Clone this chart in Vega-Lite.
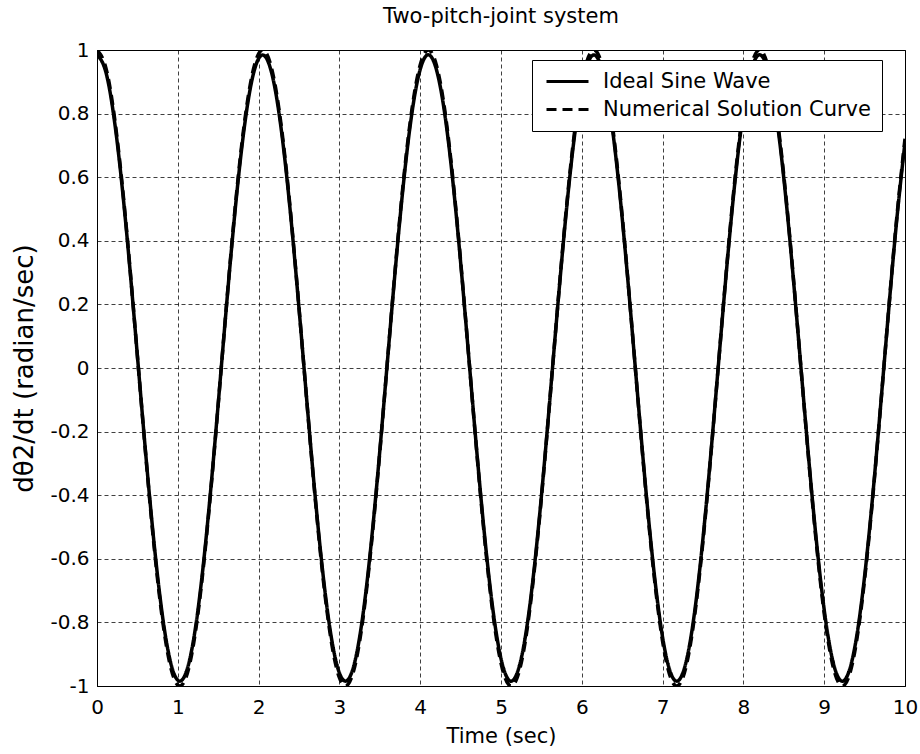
{
  "$schema": "https://vega.github.io/schema/vega-lite/v6.json",
  "width": 808,
  "height": 636,
  "autosize": {"type": "none"},
  "padding": {"left": 97, "top": 50, "right": 15, "bottom": 68},
  "background": "white",
  "title": {
    "text": "Two-pitch-joint system",
    "font": "DejaVu Sans",
    "fontSize": 21,
    "fontWeight": "normal",
    "color": "black",
    "frame": "group",
    "offset": 13
  },
  "data": {
    "values": [
      {"t": 0, "Ideal Sine Wave": 0.985, "Numerical Solution Curve": 1},
      {"t": 0.1, "Ideal Sine Wave": 0.939, "Numerical Solution Curve": 0.953},
      {"t": 0.2, "Ideal Sine Wave": 0.806, "Numerical Solution Curve": 0.818},
      {"t": 0.3, "Ideal Sine Wave": 0.597, "Numerical Solution Curve": 0.606},
      {"t": 0.4, "Ideal Sine Wave": 0.333, "Numerical Solution Curve": 0.338},
      {"t": 0.5, "Ideal Sine Wave": 0.038, "Numerical Solution Curve": 0.038},
      {"t": 0.6, "Ideal Sine Wave": -0.261, "Numerical Solution Curve": -0.265},
      {"t": 0.7, "Ideal Sine Wave": -0.535, "Numerical Solution Curve": -0.544},
      {"t": 0.8, "Ideal Sine Wave": -0.76, "Numerical Solution Curve": -0.772},
      {"t": 0.9, "Ideal Sine Wave": -0.914, "Numerical Solution Curve": -0.928},
      {"t": 1, "Ideal Sine Wave": -0.982, "Numerical Solution Curve": -0.997},
      {"t": 1.1, "Ideal Sine Wave": -0.959, "Numerical Solution Curve": -0.974},
      {"t": 1.2, "Ideal Sine Wave": -0.847, "Numerical Solution Curve": -0.86},
      {"t": 1.3, "Ideal Sine Wave": -0.655, "Numerical Solution Curve": -0.665},
      {"t": 1.4, "Ideal Sine Wave": -0.403, "Numerical Solution Curve": -0.409},
      {"t": 1.5, "Ideal Sine Wave": -0.113, "Numerical Solution Curve": -0.115},
      {"t": 1.6, "Ideal Sine Wave": 0.188, "Numerical Solution Curve": 0.19},
      {"t": 1.7, "Ideal Sine Wave": 0.471, "Numerical Solution Curve": 0.478},
      {"t": 1.8, "Ideal Sine Wave": 0.71, "Numerical Solution Curve": 0.721},
      {"t": 1.9, "Ideal Sine Wave": 0.883, "Numerical Solution Curve": 0.896},
      {"t": 2, "Ideal Sine Wave": 0.973, "Numerical Solution Curve": 0.988},
      {"t": 2.1, "Ideal Sine Wave": 0.973, "Numerical Solution Curve": 0.988},
      {"t": 2.2, "Ideal Sine Wave": 0.883, "Numerical Solution Curve": 0.896},
      {"t": 2.3, "Ideal Sine Wave": 0.71, "Numerical Solution Curve": 0.721},
      {"t": 2.4, "Ideal Sine Wave": 0.471, "Numerical Solution Curve": 0.478},
      {"t": 2.5, "Ideal Sine Wave": 0.188, "Numerical Solution Curve": 0.19},
      {"t": 2.6, "Ideal Sine Wave": -0.113, "Numerical Solution Curve": -0.115},
      {"t": 2.7, "Ideal Sine Wave": -0.403, "Numerical Solution Curve": -0.409},
      {"t": 2.8, "Ideal Sine Wave": -0.655, "Numerical Solution Curve": -0.665},
      {"t": 2.9, "Ideal Sine Wave": -0.847, "Numerical Solution Curve": -0.86},
      {"t": 3, "Ideal Sine Wave": -0.959, "Numerical Solution Curve": -0.974},
      {"t": 3.1, "Ideal Sine Wave": -0.982, "Numerical Solution Curve": -0.997},
      {"t": 3.2, "Ideal Sine Wave": -0.914, "Numerical Solution Curve": -0.928},
      {"t": 3.3, "Ideal Sine Wave": -0.76, "Numerical Solution Curve": -0.772},
      {"t": 3.4, "Ideal Sine Wave": -0.535, "Numerical Solution Curve": -0.544},
      {"t": 3.5, "Ideal Sine Wave": -0.261, "Numerical Solution Curve": -0.265},
      {"t": 3.6, "Ideal Sine Wave": 0.038, "Numerical Solution Curve": 0.038},
      {"t": 3.7, "Ideal Sine Wave": 0.333, "Numerical Solution Curve": 0.338},
      {"t": 3.8, "Ideal Sine Wave": 0.597, "Numerical Solution Curve": 0.606},
      {"t": 3.9, "Ideal Sine Wave": 0.806, "Numerical Solution Curve": 0.818},
      {"t": 4, "Ideal Sine Wave": 0.939, "Numerical Solution Curve": 0.953},
      {"t": 4.1, "Ideal Sine Wave": 0.985, "Numerical Solution Curve": 1},
      {"t": 4.2, "Ideal Sine Wave": 0.939, "Numerical Solution Curve": 0.953},
      {"t": 4.3, "Ideal Sine Wave": 0.806, "Numerical Solution Curve": 0.818},
      {"t": 4.4, "Ideal Sine Wave": 0.597, "Numerical Solution Curve": 0.606},
      {"t": 4.5, "Ideal Sine Wave": 0.333, "Numerical Solution Curve": 0.338},
      {"t": 4.6, "Ideal Sine Wave": 0.038, "Numerical Solution Curve": 0.038},
      {"t": 4.7, "Ideal Sine Wave": -0.261, "Numerical Solution Curve": -0.265},
      {"t": 4.8, "Ideal Sine Wave": -0.535, "Numerical Solution Curve": -0.544},
      {"t": 4.9, "Ideal Sine Wave": -0.76, "Numerical Solution Curve": -0.772},
      {"t": 5, "Ideal Sine Wave": -0.914, "Numerical Solution Curve": -0.928},
      {"t": 5.1, "Ideal Sine Wave": -0.982, "Numerical Solution Curve": -0.997},
      {"t": 5.2, "Ideal Sine Wave": -0.959, "Numerical Solution Curve": -0.974},
      {"t": 5.3, "Ideal Sine Wave": -0.847, "Numerical Solution Curve": -0.86},
      {"t": 5.4, "Ideal Sine Wave": -0.655, "Numerical Solution Curve": -0.665},
      {"t": 5.5, "Ideal Sine Wave": -0.403, "Numerical Solution Curve": -0.409},
      {"t": 5.6, "Ideal Sine Wave": -0.113, "Numerical Solution Curve": -0.115},
      {"t": 5.7, "Ideal Sine Wave": 0.188, "Numerical Solution Curve": 0.19},
      {"t": 5.8, "Ideal Sine Wave": 0.471, "Numerical Solution Curve": 0.478},
      {"t": 5.9, "Ideal Sine Wave": 0.71, "Numerical Solution Curve": 0.721},
      {"t": 6, "Ideal Sine Wave": 0.883, "Numerical Solution Curve": 0.896},
      {"t": 6.1, "Ideal Sine Wave": 0.973, "Numerical Solution Curve": 0.988},
      {"t": 6.2, "Ideal Sine Wave": 0.973, "Numerical Solution Curve": 0.988},
      {"t": 6.3, "Ideal Sine Wave": 0.883, "Numerical Solution Curve": 0.896},
      {"t": 6.4, "Ideal Sine Wave": 0.71, "Numerical Solution Curve": 0.721},
      {"t": 6.5, "Ideal Sine Wave": 0.471, "Numerical Solution Curve": 0.478},
      {"t": 6.6, "Ideal Sine Wave": 0.188, "Numerical Solution Curve": 0.19},
      {"t": 6.7, "Ideal Sine Wave": -0.113, "Numerical Solution Curve": -0.115},
      {"t": 6.8, "Ideal Sine Wave": -0.403, "Numerical Solution Curve": -0.409},
      {"t": 6.9, "Ideal Sine Wave": -0.655, "Numerical Solution Curve": -0.665},
      {"t": 7, "Ideal Sine Wave": -0.847, "Numerical Solution Curve": -0.86},
      {"t": 7.1, "Ideal Sine Wave": -0.959, "Numerical Solution Curve": -0.974},
      {"t": 7.2, "Ideal Sine Wave": -0.982, "Numerical Solution Curve": -0.997},
      {"t": 7.3, "Ideal Sine Wave": -0.914, "Numerical Solution Curve": -0.928},
      {"t": 7.4, "Ideal Sine Wave": -0.76, "Numerical Solution Curve": -0.772},
      {"t": 7.5, "Ideal Sine Wave": -0.535, "Numerical Solution Curve": -0.544},
      {"t": 7.6, "Ideal Sine Wave": -0.261, "Numerical Solution Curve": -0.265},
      {"t": 7.7, "Ideal Sine Wave": 0.038, "Numerical Solution Curve": 0.038},
      {"t": 7.8, "Ideal Sine Wave": 0.333, "Numerical Solution Curve": 0.338},
      {"t": 7.9, "Ideal Sine Wave": 0.597, "Numerical Solution Curve": 0.606},
      {"t": 8, "Ideal Sine Wave": 0.806, "Numerical Solution Curve": 0.818},
      {"t": 8.1, "Ideal Sine Wave": 0.939, "Numerical Solution Curve": 0.953},
      {"t": 8.2, "Ideal Sine Wave": 0.985, "Numerical Solution Curve": 1},
      {"t": 8.3, "Ideal Sine Wave": 0.939, "Numerical Solution Curve": 0.953},
      {"t": 8.4, "Ideal Sine Wave": 0.806, "Numerical Solution Curve": 0.818},
      {"t": 8.5, "Ideal Sine Wave": 0.597, "Numerical Solution Curve": 0.606},
      {"t": 8.6, "Ideal Sine Wave": 0.333, "Numerical Solution Curve": 0.338},
      {"t": 8.7, "Ideal Sine Wave": 0.038, "Numerical Solution Curve": 0.038},
      {"t": 8.8, "Ideal Sine Wave": -0.261, "Numerical Solution Curve": -0.265},
      {"t": 8.9, "Ideal Sine Wave": -0.535, "Numerical Solution Curve": -0.544},
      {"t": 9, "Ideal Sine Wave": -0.76, "Numerical Solution Curve": -0.772},
      {"t": 9.1, "Ideal Sine Wave": -0.914, "Numerical Solution Curve": -0.928},
      {"t": 9.2, "Ideal Sine Wave": -0.982, "Numerical Solution Curve": -0.997},
      {"t": 9.3, "Ideal Sine Wave": -0.959, "Numerical Solution Curve": -0.974},
      {"t": 9.4, "Ideal Sine Wave": -0.847, "Numerical Solution Curve": -0.86},
      {"t": 9.5, "Ideal Sine Wave": -0.655, "Numerical Solution Curve": -0.665},
      {"t": 9.6, "Ideal Sine Wave": -0.403, "Numerical Solution Curve": -0.409},
      {"t": 9.7, "Ideal Sine Wave": -0.113, "Numerical Solution Curve": -0.115},
      {"t": 9.8, "Ideal Sine Wave": 0.188, "Numerical Solution Curve": 0.19},
      {"t": 9.9, "Ideal Sine Wave": 0.471, "Numerical Solution Curve": 0.478},
      {"t": 10, "Ideal Sine Wave": 0.71, "Numerical Solution Curve": 0.721}
    ]
  },
  "transform": [
    {"fold": ["Ideal Sine Wave", "Numerical Solution Curve"], "as": ["series", "value"]}
  ],
  "mark": {"type": "line", "interpolate": "natural", "strokeWidth": 3.5, "clip": true},
  "encoding": {
    "x": {
      "field": "t",
      "type": "quantitative",
      "scale": {"domain": [0, 10], "nice": false},
      "axis": {
        "title": "Time (sec)",
        "values": [0, 1, 2, 3, 4, 5, 6, 7, 8, 9, 10],
        "format": "d",
        "labelPadding": 11,
        "titleFontSize": 21,
        "titlePadding": 8
      }
    },
    "y": {
      "field": "value",
      "type": "quantitative",
      "scale": {"domain": [-1, 1], "nice": false, "zero": false},
      "axis": {
        "title": "dθ2/dt (radian/sec)",
        "values": [-1, -0.8, -0.6, -0.4, -0.2, 0, 0.2, 0.4, 0.6, 0.8, 1],
        "labelExpr": "replace(format(datum.value, '.1~f'), '\u2212', '-')",
        "labelPadding": 8,
        "titleFontSize": 26,
        "titlePadding": 12
      }
    },
    "color": {
      "field": "series",
      "type": "nominal",
      "scale": {"domain": ["Ideal Sine Wave", "Numerical Solution Curve"], "range": ["black", "black"]},
      "legend": {"title": null}
    },
    "strokeDash": {
      "field": "series",
      "type": "nominal",
      "scale": {"domain": ["Ideal Sine Wave", "Numerical Solution Curve"], "range": [[1, 0], [10, 6]]},
      "legend": {"title": null}
    }
  },
  "config": {
    "view": {"stroke": "black", "strokeWidth": 1},
    "axis": {
      "domainColor": "black",
      "domainWidth": 1,
      "ticks": false,
      "labelFont": "DejaVu Sans",
      "labelFontSize": 20,
      "labelColor": "black",
      "labelFlush": false,
      "labelOverlap": false,
      "titleFont": "DejaVu Sans",
      "titleFontWeight": "normal",
      "titleColor": "black",
      "grid": true,
      "gridColor": "black",
      "gridDash": [4, 3],
      "gridWidth": 1,
      "gridOpacity": 0.75
    },
    "legend": {
      "orient": "none",
      "legendX": 435,
      "legendY": 10,
      "padding": 11,
      "fillColor": "white",
      "strokeColor": "black",
      "symbolType": "M-1,0H5",
      "symbolSize": 196,
      "symbolStrokeWidth": 3,
      "symbolStrokeColor": "black",
      "labelFont": "DejaVu Sans",
      "labelFontSize": 21,
      "labelColor": "black",
      "labelOffset": 39,
      "labelLimit": 0,
      "rowPadding": 6
    }
  }
}
